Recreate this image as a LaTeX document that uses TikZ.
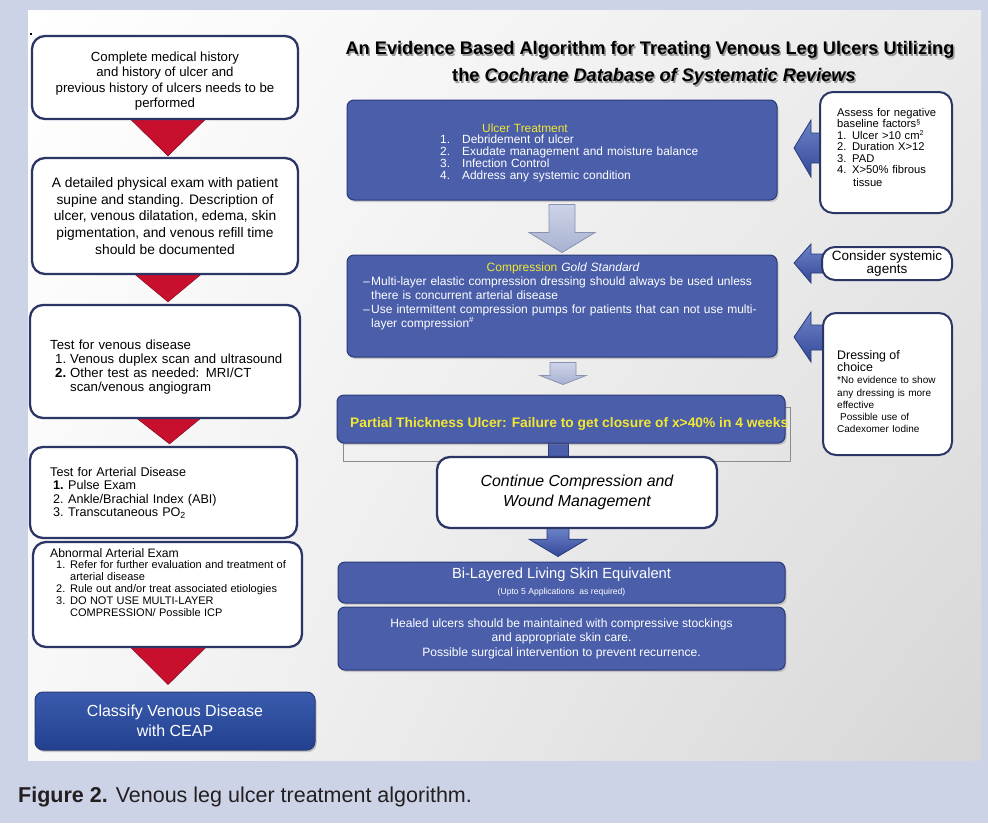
\documentclass[tikz,border=0pt]{standalone}
\usepackage{fontspec}
\setmainfont{Liberation Sans}
\usetikzlibrary{calc,shadows,shadings}
\setlength\parindent{0pt}
\definecolor{bgblue}{HTML}{CDD3E7}
\definecolor{boxblue}{HTML}{4A5EAA}
\definecolor{boxedge}{HTML}{2A3A78}
\definecolor{navy}{HTML}{2B3566}
\definecolor{tri}{HTML}{C8102E}
\definecolor{yel}{HTML}{F2E733}
\definecolor{garrowtop}{HTML}{CDD3E8}
\definecolor{garrowbot}{HTML}{A7B1D0}
\definecolor{garrowedge}{HTML}{8891AE}
\definecolor{barrtop}{HTML}{6C82C6}
\definecolor{barrbot}{HTML}{34499A}
\definecolor{ceaptop}{HTML}{3A5BAE}
\definecolor{ceapbot}{HTML}{22408E}
\definecolor{capcol}{HTML}{231F20}
\newcommand\fs[2]{\fontsize{#1pt}{#2pt}\selectfont}
\newcommand\itm[3]{\par\hangindent=#1\hangafter=1\noindent\makebox[#1][l]{#2}#3\par}
\pgfdeclarelayer{bgzero}
\pgfdeclarelayer{bgone}
\pgfsetlayers{bgzero,bgone,main}
\begin{document}
\begin{tikzpicture}[x=1pt,y=-1pt,
  wbox/.style={draw=navy,line width=2.3pt,fill=white,rounded corners=13pt,inner sep=0pt},
  bbox/.style={draw=boxedge,line width=1pt,fill=boxblue,rounded corners=7pt,inner sep=0pt,text=white,
     drop shadow={shadow xshift=1.5pt,shadow yshift=-2pt,opacity=0.35}},
  txt/.style={inner sep=0pt,align=left,text width=#1},
  redtri/.style={fill=tri,draw=tri!70!black,line width=0.6pt},
  grayarr/.style={top color=garrowtop,bottom color=garrowbot,draw=garrowedge,line width=0.8pt},
  bluearr/.style={top color=barrtop,bottom color=barrbot,draw=boxedge,line width=0.8pt},
  titletext/.style={font=\bfseries\fs{18.2}{21},inner sep=0pt},
]
\useasboundingbox (0,0) rectangle (988,823);
\begin{pgfonlayer}{bgzero}
\fill[bgblue] (0,0) rectangle (988,823);
\shade[upper left=white,upper right=black!8,lower left=black!3,lower right=black!16] (28,10) rectangle (981,760);
\fill[black] (29.5,32.5) rectangle (32,35);
\end{pgfonlayer}

% title
\node[titletext,text=black!40] (t1s) at (651.5,51.5) {An Evidence Based Algorithm for Treating Venous Leg Ulcers Utilizing};
\node[titletext,text=black!40] (t2s) at (655.5,78.5) {the \textit{Cochrane Database of Systematic Reviews}};
\node[titletext] (t1) at (650,50) {An Evidence Based Algorithm for Treating Venous Leg Ulcers Utilizing};
\node[titletext] (t2) at (654,77) {the \textit{Cochrane Database of Systematic Reviews}};

% left column
\node[wbox,minimum width=266pt,minimum height=83pt] (h1) at (165,77.5) {};
\node[align=center,inner sep=0pt,font=\fs{13.2}{15.5}] (h1t) at (165,81)
  {Complete medical history\\and history of ulcer and\\previous history of ulcers needs to be\\performed};
\node[wbox,minimum width=266pt,minimum height=116pt,align=center,font=\fs{13.8}{16.7}] (h2) at (165,216)
  {A detailed physical exam with patient\\supine and standing. Description of\\ulcer, venous dilatation, edema, skin\\pigmentation, and venous refill time\\should be documented};
\node[wbox,minimum width=270pt,minimum height=113pt] (h3) at (165,361.5) {};
\node[txt=250pt,anchor=base west,font=\fs{13.2}{14.3}] (h3t) at (50,349)
  {Test for venous disease
   \itm{20pt}{\hspace*{5pt}1.}{Venous duplex scan and ultrasound}
   \itm{20pt}{\hspace*{5pt}\textbf{2.}}{Other test as needed: MRI/CT\newline scan/venous angiogram}};
\node[wbox,minimum width=267pt,minimum height=91pt] (h4) at (163.5,492.5) {};
\node[txt=240pt,anchor=base west,font=\fs{12.6}{13.5}] (h4t) at (50,476)
  {Test for Arterial Disease
   \itm{18pt}{\hspace*{3pt}\textbf{1.}}{Pulse Exam}
   \itm{18pt}{\hspace*{3pt}2.}{Ankle/Brachial Index (ABI)}
   \itm{18pt}{\hspace*{3pt}3.}{Transcutaneous PO\textsubscript{2}}};
\node[wbox,minimum width=269pt,minimum height=105pt] (h5) at (167.5,594.5) {};
\node[txt=245pt,anchor=base west] (h5t) at (50,557)
  {{\fs{12.2}{14}Abnormal Arterial Exam\par}\fs{11}{11.9}%
   \itm{20pt}{\hspace*{6pt}1.}{Refer for further evaluation and treatment of\newline arterial disease}
   \itm{20pt}{\hspace*{6pt}2.}{Rule out and/or treat associated etiologies}
   \itm{20pt}{\hspace*{6pt}3.}{DO NOT USE MULTI-LAYER\newline COMPRESSION/ Possible ICP}};
\node[draw=boxedge,line width=1pt,top color=ceaptop,bottom color=ceapbot,rounded corners=8pt,inner sep=0pt,
      text=white,align=center,font=\fs{16}{20},minimum width=280pt,minimum height=58pt,
      drop shadow={shadow xshift=1.5pt,shadow yshift=-2pt,opacity=0.4}] (ceap) at (175,721)
  {Classify Venous Disease\\with CEAP};

\begin{pgfonlayer}{bgone}
\draw[redtri] ($(h1.south)+(-59,-25)$) -- ($(h1.south)+(65,-25)$) -- ($(h2.north)+(3,-1)$) -- cycle;
\draw[redtri] ($(h2.south)+(-59,-25)$) -- ($(h2.south)+(65,-25)$) -- ($(h3.north)+(3,-2)$) -- cycle;
\draw[redtri] ($(h3.south)+(-59,-25)$) -- ($(h3.south)+(65,-25)$) -- ($(h4.north)+(6,-2)$) -- cycle;
\draw[redtri] ($(h5.south)+(-61,-25)$) -- ($(h5.south)+(63,-25)$) -- ($(ceap.north)+(-7,-7)$) -- cycle;
\end{pgfonlayer}

% centre column
\node[bbox,minimum width=430pt,minimum height=100pt] (A) at (562,150) {};
\node[txt=270pt,anchor=base west,text=white,font=\fs{11.9}{11.8}] (aT) at (440,132)
  {\hspace*{42pt}\textcolor{yel}{Ulcer Treatment}
   \itm{22pt}{1.}{Debridement of ulcer}
   \itm{22pt}{2.}{Exudate management and moisture balance}
   \itm{22pt}{3.}{Infection Control}
   \itm{22pt}{4.}{Address any systemic condition}};
\node[bbox,minimum width=430pt,minimum height=102pt] (B) at (562,306) {};
\node[txt=400pt,anchor=base west,text=white,font=\fs{12}{14}] (bT) at (363,271)
  {\makebox[400pt][c]{\textcolor{yel}{Compression} \textit{Gold Standard}}
   \itm{8pt}{–}{Multi-layer elastic compression dressing should always be used unless\newline there is concurrent arterial disease}
   \itm{8pt}{–}{Use intermittent compression pumps for patients that can not use multi-\newline layer compression\textsuperscript{\#}}};
\node[draw=black!45,line width=0.9pt,minimum width=447pt,minimum height=54pt,inner sep=0pt] (frameC) at (566.5,434) {};
\node[bbox,minimum width=448pt,minimum height=48pt] (C) at (561,419) {};
\node[anchor=base west,inner sep=0pt,text=yel,font=\bfseries\fs{13.8}{15}] (cT) at (350,427)
  {Partial Thickness Ulcer: Failure to get closure of x>40\% in 4 weeks};
\node[wbox,minimum width=280pt,minimum height=71pt,align=center,font=\fs{15.9}{20}\itshape] (D) at (577,492.5)
  {Continue Compression and\\Wound Management};
\node[bbox,minimum width=447pt,minimum height=41pt,align=center] (E) at (561.5,582.5)
  {\fs{14.7}{16}Bi-Layered Living Skin Equivalent\\[4pt]\fs{8.6}{10}(Upto 5 Applications\ \ as required)};
\node[bbox,minimum width=447pt,minimum height=63pt,align=center,font=\fs{12.1}{14.5}] (F) at (561.5,638.5)
  {Healed ulcers should be maintained with compressive stockings\\and appropriate skin care.\\Possible surgical intervention to prevent recurrence.};

% right column
\node[wbox,line width=2pt,minimum width=132pt,minimum height=121pt] (R1) at (886,152.5) {};
\node[txt=112pt,anchor=base west,font=\fs{11.2}{11.5}] (r1T) at (837,116)
  {Assess for negative\\baseline factors{\fs{7}{7}\raisebox{3.5pt}{§}}\\1. Ulcer >10 cm{\fs{7}{7}\raisebox{3.5pt}{2}}\\2. Duration X>12\\3. PAD\\4. X>50\% fibrous\\[1.5pt]\hspace*{16pt}tissue};
\node[wbox,line width=2pt,minimum width=130pt,minimum height=33pt,align=center,font=\fs{13.5}{13}] (R2) at (887,263.5)
  {Consider systemic\\agents};
\node[wbox,line width=2pt,minimum width=129pt,minimum height=142pt] (R3) at (887.5,384) {};
\node[txt=112pt,anchor=base west] (r3T) at (837,359)
  {{\fs{12.4}{12.5}Dressing of\\choice\par}\fs{10}{12.3}*No evidence to show\\any dressing is more\\effective\\\hspace*{3pt}Possible use of\\Cadexomer Iodine};

% connectors
\begin{pgfonlayer}{bgone}
\shadedraw[grayarr] ($(A.south)+(-13,4)$) -- ($(A.south)+(13,4)$) -- ($(A.south)+(13,32)$) -- ($(A.south)+(33,32)$)
   -- ($(B.north)+(0,-2)$) -- ($(A.south)+(-33,32)$) -- ($(A.south)+(-13,32)$) -- cycle;
\shadedraw[grayarr] ($(B.south)+(-12,5)$) -- ($(B.south)+(14,5)$) -- ($(B.south)+(14,18)$) -- ($(B.south)+(24,18)$)
   -- ($(C.north)+(2,-10)$) -- ($(B.south)+(-22,18)$) -- ($(B.south)+(-12,18)$) -- cycle;
\filldraw[fill=boxblue,draw=boxedge,line width=0.8pt] ($(C.south)+(-13,-1)$) rectangle ($(D.north)+(-9,1)$);
\shadedraw[bluearr] ($(D.south)+(-30,-1)$) -- ($(D.south)+(-8,-1)$) -- ($(D.south)+(-8,10)$) -- ($(D.south)+(10,10)$)
   -- ($(E.north)+(-3.5,-5)$) -- ($(D.south)+(-48,10)$) -- ($(D.south)+(-30,10)$) -- cycle;
\shadedraw[bluearr] ($(R1.west)+(-25,-4.5)$) -- ($(R1.west)+(-8,-32.5)$) -- ($(R1.west)+(-8,-19.5)$) -- ($(R1.west)+(4,-19.5)$)
   -- ($(R1.west)+(4,10.5)$) -- ($(R1.west)+(-8,10.5)$) -- ($(R1.west)+(-8,24.5)$) -- cycle;
\shadedraw[bluearr] ($(R2.west)+(-27,-0.5)$) -- ($(R2.west)+(-10,-19.5)$) -- ($(R2.west)+(-10,-9.5)$) -- ($(R2.west)+(4,-9.5)$)
   -- ($(R2.west)+(4,9.5)$) -- ($(R2.west)+(-10,9.5)$) -- ($(R2.west)+(-10,19.5)$) -- cycle;
\shadedraw[bluearr] ($(R3.west)+(-28,-47)$) -- ($(R3.west)+(-11,-72)$) -- ($(R3.west)+(-11,-59)$) -- ($(R3.west)+(4,-59)$)
   -- ($(R3.west)+(4,-34)$) -- ($(R3.west)+(-11,-34)$) -- ($(R3.west)+(-11,-22)$) -- cycle;
\end{pgfonlayer}

% caption
\node[anchor=base west,inner sep=0pt,font=\fs{21.5}{24},text=capcol] (cap) at (18,802)
  {\textbf{Figure 2.} Venous leg ulcer treatment algorithm.};
\end{tikzpicture}
\end{document}
